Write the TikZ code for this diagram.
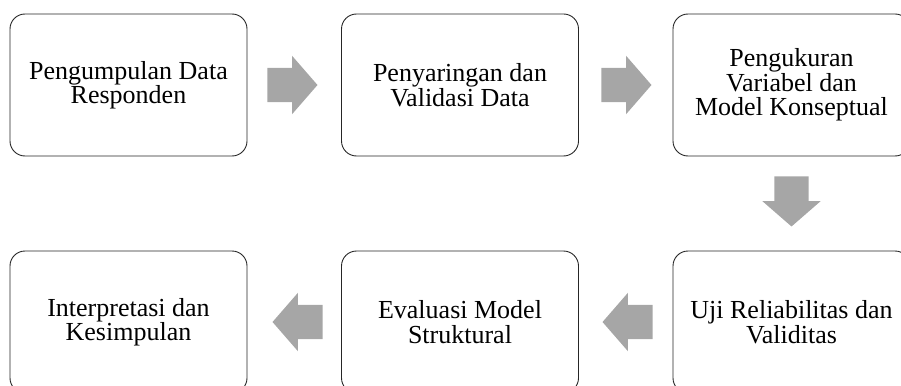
\documentclass[tikz,border=0pt]{standalone}
\usepackage{fontspec}
\setmainfont{Liberation Serif}
\usetikzlibrary{shapes.arrows}
\definecolor{arrowgray}{HTML}{A6A6A6}
\tikzset{
  stepbox/.style={rectangle, rounded corners=15pt, draw=black!85, line width=0.9pt, minimum width=237pt, minimum height=142pt, align=center, font=\fontsize{26}{24.5}\selectfont, inner sep=0pt},
  flowarrow/.style={single arrow, fill=arrowgray, draw=none, minimum height=50pt, minimum width=58pt, text height=34pt, text depth=0pt, single arrow head extend=12pt, single arrow tip angle=98, inner sep=0pt}
}

\begin{document}
\begin{tikzpicture}[x=1pt, y=1pt]
  \clip (0,0) rectangle (901,-385);

  \node[stepbox] (collect) at (128.5,-85) {Pengumpulan Data\\Responden};
  \node[stepbox] (filter) at (460,-85) {Penyaringan dan\\Validasi Data};
  \node[stepbox] (measure) at (791.5,-85) {Pengukuran\\Variabel dan\\Model Konseptual};
  \node[stepbox] (reliab) at (791.5,-322) {Uji Reliabilitas dan\\Validitas};
  \node[stepbox] (evalmod) at (460,-322) {Evaluasi Model\\Struktural};
  \node[stepbox] (interp) at (128.5,-322) {Interpretasi dan\\Kesimpulan};

  \node[flowarrow] (a1) at (285,-85) {};
  \node[flowarrow] (a2) at (619,-85) {};
  \node[flowarrow, rotate=-90] (a3) at (791.5,-194) {};
  \node[flowarrow, rotate=180] (a4) at (635,-322) {};
  \node[flowarrow, rotate=180] (a5) at (305,-322) {};
\end{tikzpicture}
\end{document}
